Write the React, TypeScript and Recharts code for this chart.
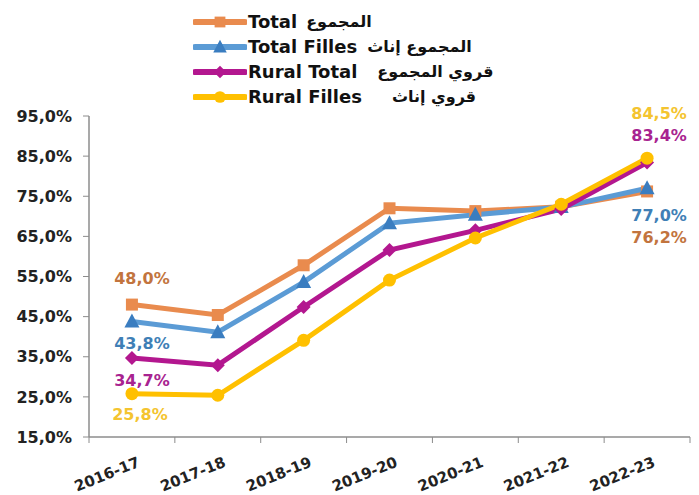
import { LineChart, Line, XAxis, YAxis } from 'recharts';

const categories = ['2016-17', '2017-18', '2018-19', '2019-20', '2020-21', '2021-22', '2022-23'];
const total = [48.0, 45.4, 57.8, 72.0, 71.3, 72.4, 76.2];
const totalFilles = [43.8, 41.1, 53.6, 68.3, 70.4, 72.3, 77.0];
const ruralTotal = [34.7, 32.9, 47.4, 61.6, 66.5, 71.8, 83.4];
const ruralFilles = [25.8, 25.4, 39.1, 54.1, 64.6, 73.0, 84.5];
const yTicks = [15, 25, 35, 45, 55, 65, 75, 85, 95];

const data = categories.map((c, i) => ({
  name: c,
  total: total[i],
  totalFilles: totalFilles[i],
  ruralTotal: ruralTotal[i],
  ruralFilles: ruralFilles[i],
}));

const series = [
  { key: 'total', name: 'Total', ar: 'المجموع', color: '#E98B4E', labelColor: '#C2743E', shape: 'square', gap: 9, first: [10, -26], last: [12, 46] },
  { key: 'totalFilles', name: 'Total Filles', ar: 'المجموع إناث', color: '#5B9BD5', labelColor: '#3F7FB6', shape: 'triangle', gap: 10, first: [10, 22], last: [12, 27] },
  { key: 'ruralTotal', name: 'Rural Total', ar: 'قروي المجموع', color: '#B3178F', labelColor: '#A82390', shape: 'diamond', gap: 20, first: [10, 22], last: [12, -27] },
  { key: 'ruralFilles', name: 'Rural Filles', ar: 'قروي إناث', color: '#FFC000', labelColor: '#F4C430', shape: 'circle', gap: 30, first: [8, 21], last: [12, -45] },
];

const fmt = (v: number) => `${v.toFixed(1).replace('.', ',')}%`;
const font = '"DejaVu Sans", sans-serif';

const W = 699;
const H = 495;
const M = { top: 116, right: 9, bottom: 0, left: 0 };
const Y_W = 89;
const HALF_BAND = (W - M.right - Y_W) / categories.length / 2;

const Marker = ({ cx, cy, shape, color, size = 1 }: any) => {
  if (cx == null || cy == null) return null;
  if (shape === 'square') return <rect x={cx - 6 * size} y={cy - 6 * size} width={12 * size} height={12 * size} fill={color} />;
  if (shape === 'triangle')
    return <polygon points={`${cx},${cy - 8 * size} ${cx + 7.5 * size},${cy + 6 * size} ${cx - 7.5 * size},${cy + 6 * size}`} fill="#3A7DC0" />;
  if (shape === 'diamond')
    return <polygon points={`${cx},${cy - 7 * size} ${cx + 7 * size},${cy} ${cx},${cy + 7 * size} ${cx - 7 * size},${cy}`} fill={color} />;
  return <circle cx={cx} cy={cy} r={6.5 * size} fill={color} />;
};

const makeLabel = (s: any) => (props: any) => {
  const { x, y, index, value } = props;
  if (index !== 0 && index !== categories.length - 1) return null;
  const [dx, dy] = index === 0 ? s.first : s.last;
  return (
    <text key={`${s.key}-l-${index}`} x={x + dx} y={y + dy} dy="0.36em" textAnchor="middle" fill={s.labelColor} fontFamily={font} fontWeight="bold" fontSize={16}>
      {fmt(value)}
    </text>
  );
};

// rotated category label plus tick marks at the band edges
const XTick = ({ x, y, payload, index }: any) => {
  const axisY = y - 8;
  return (
    <g>
      <line x1={x - HALF_BAND} y1={axisY} x2={x - HALF_BAND} y2={axisY + 6} stroke="#8c8c8c" />
      {index === categories.length - 1 && (
        <line x1={x + HALF_BAND} y1={axisY} x2={x + HALF_BAND} y2={axisY + 6} stroke="#8c8c8c" />
      )}
      <text
        x={x + 9}
        y={y + 21}
        transform={`rotate(-22 ${x + 9} ${y + 21})`}
        textAnchor="end"
        fill="#222"
        fontFamily={font}
        fontWeight="bold"
        fontSize={15}
      >
        {payload.value}
      </text>
    </g>
  );
};

const LegendBox = () => (
  <div style={{ position: 'absolute', left: 193, top: 9, fontFamily: font, color: '#111' }}>
    {series.map((s) => (
      <div key={s.key} style={{ display: 'flex', alignItems: 'center', height: 25 }}>
        <svg width={54} height={20}>
          <line x1={2} y1={10} x2={52} y2={10} stroke={s.color} strokeWidth={6} strokeLinecap="round" />
          <Marker cx={27} cy={10} shape={s.shape} color={s.color} size={0.9} />
        </svg>
        <span style={{ fontWeight: 'bold', fontSize: 18, marginLeft: 1 }}>{s.name}</span>
        <span dir="rtl" style={{ fontWeight: 'bold', fontSize: 16, marginLeft: s.gap }}>{s.ar}</span>
      </div>
    ))}
  </div>
);

export default function App() {
  return (
    <div style={{ position: 'absolute', left: 0, top: 0, width: W, height: H, background: '#fff' }}>
      <LineChart width={W} height={H} data={data} margin={M}>
        <XAxis
          dataKey="name"
          height={58}
          padding={{ left: HALF_BAND, right: HALF_BAND }}
          axisLine={{ stroke: '#8c8c8c', strokeWidth: 1.5 }}
          tickLine={false}
          interval={0}
          tick={<XTick />}
        />
        <YAxis
          domain={[15, 95]}
          ticks={yTicks}
          width={Y_W}
          axisLine={{ stroke: '#8c8c8c', strokeWidth: 1.5 }}
          tickLine={{ stroke: '#8c8c8c' }}
          tickSize={6}
          tickMargin={11}
          tickFormatter={fmt}
          tick={{ fill: '#222', fontFamily: font, fontWeight: 'bold', fontSize: 16 }}
        />
        {series.map((s) => (
          <Line
            key={s.key}
            dataKey={s.key}
            name={s.name}
            stroke={s.color}
            strokeWidth={5}
            isAnimationActive={false}
            dot={(p: any) => <Marker key={`${s.key}-${p.index}`} cx={p.cx} cy={p.cy} shape={s.shape} color={s.color} />}
            activeDot={false}
            label={makeLabel(s)}
          />
        ))}
      </LineChart>
      <LegendBox />
    </div>
  );
}
